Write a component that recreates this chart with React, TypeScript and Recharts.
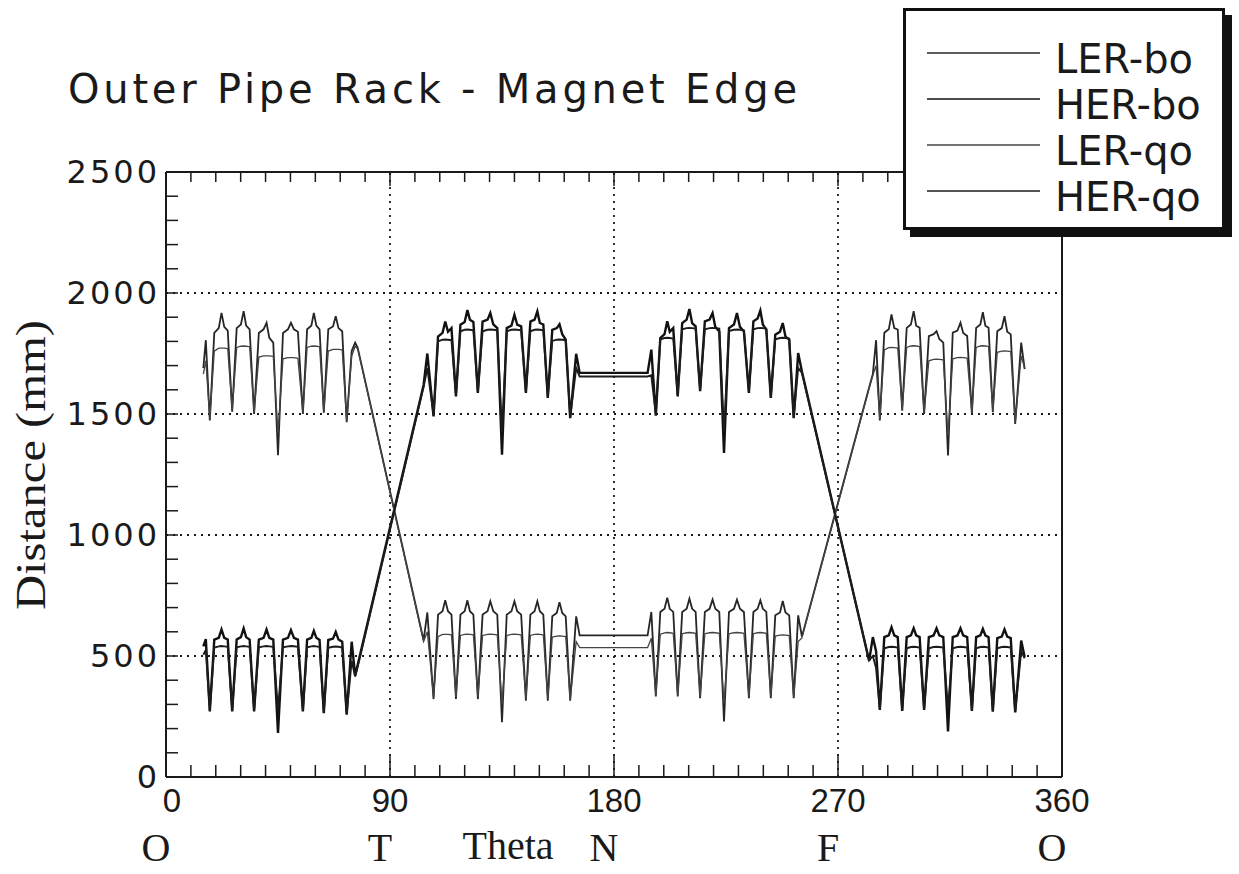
import React from 'react';
import { LineChart, Line, XAxis, YAxis, ReferenceLine, Legend, Label } from 'recharts';

// theta positions (deg): 4 arcs of 7 dips each, plus the crossings and the flat straight at N
const theta = [
  // O - T arc
  15, 16, 17.6, 19.4, 21.2, 22.3, 23.4, 24.8, 26.6, 28.4, 30.1, 31.2, 32.2, 33.6, 35.4, 37.3, 39.2, 40.4, 41.5, 43.1,
  45, 47, 49, 50.2, 51.4, 53, 55, 56.7, 58.4, 59.4, 60.4, 61.7, 63.4, 65.2, 67.1, 68.2, 69.3, 70.8, 72.6, 74.6, 76, 77,
  // crossing at T
  103.5, 105,
  // T - N arc
  107.5, 109.3, 111.1, 112.2, 113.3, 114.7, 116.5, 118.3, 120, 121.1, 122.1, 123.5, 125.3, 127.2, 129.2, 130.3, 131.5, 133.1,
  135, 136.9, 138.8, 140, 141.1, 142.7, 144.6, 146.4, 148.1, 149.2, 150.2, 151.6, 153.4, 155.2, 157, 158.1, 159.2, 160.6, 162.4, 164.8, 166.2,
  // straight at N
  193.5, 195,
  // N - F arc
  196.8, 198.6, 200.3, 201.4, 202.4, 203.8, 205.6, 207.4, 209.2, 210.3, 211.4, 212.8, 214.6, 216.5, 218.4, 219.6, 220.7, 222.3,
  224.2, 226.2, 228.2, 229.4, 230.6, 232.2, 234.2, 236, 237.7, 238.8, 239.8, 241.2, 243, 244.8, 246.7, 247.8, 248.9, 250.4, 252.2, 254, 255.5,
  // crossing at F
  282.5, 284, 285.3,
  // F - O arc
  286.8, 288.6, 290.4, 291.5, 292.6, 294, 295.8, 297.6, 299.3, 300.4, 301.4, 302.8, 304.6, 306.5, 308.4, 309.6, 310.7, 312.3,
  314.2, 316.1, 318, 319.2, 320.3, 321.9, 323.8, 325.5, 327.2, 328.2, 329.2, 330.5, 332.2, 334, 335.8, 336.9, 338, 339.4, 341.2, 343.6, 345,
];

const lerBo = [
  1690, 1805, 1473, 1835, 1855, 1918, 1860, 1845, 1510, 1855, 1870, 1925, 1865, 1850, 1500, 1835, 1850, 1877, 1815, 1795,
  1330, 1835, 1850, 1877, 1850, 1840, 1500, 1850, 1865, 1918, 1865, 1850, 1505, 1850, 1862, 1904, 1855, 1842, 1466, 1760, 1795, 1775,
  565, 680,
  322, 671, 685, 730, 685, 671, 322, 671, 685, 730, 685, 671, 322, 671, 685, 726, 685, 671,
  226, 671, 685, 726, 685, 671, 315, 671, 685, 726, 685, 671, 315, 664, 678, 722, 678, 664, 315, 664, 585,
  585, 682,
  333, 682, 695, 741, 695, 682, 333, 682, 695, 737, 695, 682, 326, 682, 695, 733, 695, 682,
  230, 682, 695, 733, 695, 682, 326, 682, 695, 730, 695, 682, 326, 668, 680, 727, 680, 668, 326, 668, 580,
  1610, 1665, 1805,
  1473, 1836, 1850, 1911, 1855, 1849, 1514, 1856, 1870, 1925, 1865, 1856, 1500, 1822, 1830, 1842, 1810, 1795,
  1329, 1836, 1845, 1877, 1835, 1822, 1500, 1856, 1870, 1921, 1865, 1856, 1507, 1842, 1855, 1904, 1840, 1829, 1459, 1795, 1685,
];

const herBo = [
  540, 570, 271, 568, 575, 610, 575, 568, 271, 568, 578, 614, 578, 568, 271, 568, 575, 610, 575, 568,
  182, 568, 575, 607, 575, 568, 271, 568, 575, 604, 575, 566, 264, 566, 572, 600, 568, 559, 258, 559, 420, 463,
  1620, 1750,
  1490, 1820, 1835, 1882, 1840, 1855, 1573, 1869, 1880, 1930, 1889, 1880, 1587, 1882, 1890, 1917, 1870, 1855,
  1332, 1855, 1865, 1910, 1869, 1862, 1587, 1882, 1890, 1924, 1876, 1870, 1566, 1848, 1855, 1871, 1830, 1807, 1483, 1749, 1670,
  1670, 1766,
  1493, 1814, 1830, 1883, 1840, 1855, 1573, 1876, 1890, 1934, 1875, 1862, 1594, 1883, 1890, 1917, 1860, 1841,
  1339, 1855, 1870, 1917, 1860, 1841, 1587, 1883, 1895, 1928, 1870, 1848, 1566, 1828, 1840, 1876, 1820, 1807, 1483, 1752, 1676,
  480, 578, 520,
  277, 578, 585, 619, 585, 578, 273, 578, 585, 615, 585, 578, 277, 578, 585, 615, 585, 578,
  188, 578, 585, 615, 585, 578, 273, 578, 585, 612, 585, 578, 270, 574, 580, 610, 580, 574, 267, 564, 496,
];

const lerQo = [
  1665, 1720, 1480, 1760, 1772, 1772, 1772, 1770, 1515, 1775, 1780, 1781, 1780, 1778, 1505, 1735, 1740, 1740, 1740, 1738,
  1420, 1728, 1733, 1733, 1733, 1730, 1505, 1775, 1780, 1781, 1780, 1778, 1510, 1760, 1767, 1767, 1767, 1765, 1470, 1740, 1780, 1770,
  560, 600,
  330, 580, 589, 589, 589, 587, 330, 585, 589, 590, 589, 587, 330, 585, 589, 590, 589, 587,
  301, 585, 589, 590, 589, 587, 322, 585, 589, 590, 589, 587, 322, 578, 582, 583, 582, 580, 320, 560, 535,
  535, 573,
  338, 590, 596, 597, 596, 594, 338, 592, 596, 597, 596, 594, 332, 592, 596, 597, 596, 594,
  305, 592, 596, 597, 596, 594, 332, 592, 596, 597, 596, 594, 332, 582, 586, 587, 586, 584, 330, 560, 575,
  1605, 1660, 1700,
  1480, 1765, 1774, 1775, 1774, 1772, 1518, 1775, 1781, 1782, 1781, 1779, 1505, 1720, 1726, 1727, 1726, 1724,
  1411, 1728, 1733, 1734, 1733, 1731, 1505, 1775, 1781, 1782, 1781, 1779, 1512, 1755, 1760, 1761, 1760, 1758, 1465, 1740, 1690,
];

const herQo = [
  505, 525, 275, 535, 540, 541, 540, 538, 275, 536, 540, 541, 540, 538, 275, 536, 540, 541, 540, 538,
  278, 536, 540, 541, 540, 538, 275, 536, 540, 541, 540, 537, 268, 534, 538, 539, 538, 535, 262, 480, 415, 455,
  1612, 1690,
  1495, 1800, 1807, 1808, 1807, 1805, 1578, 1842, 1848, 1849, 1848, 1846, 1590, 1842, 1848, 1849, 1848, 1846,
  1428, 1842, 1848, 1849, 1848, 1846, 1590, 1842, 1848, 1849, 1848, 1846, 1570, 1802, 1807, 1808, 1807, 1805, 1488, 1690, 1655,
  1655, 1660,
  1498, 1808, 1814, 1815, 1814, 1812, 1578, 1850, 1855, 1856, 1855, 1853, 1598, 1850, 1855, 1856, 1855, 1853,
  1428, 1843, 1848, 1849, 1848, 1846, 1592, 1850, 1855, 1856, 1855, 1853, 1570, 1809, 1814, 1815, 1814, 1812, 1488, 1690, 1670,
  482, 500, 450,
  280, 532, 537, 538, 537, 535, 276, 532, 537, 538, 537, 535, 280, 532, 537, 538, 537, 535,
  284, 532, 537, 538, 537, 535, 276, 532, 537, 538, 537, 535, 273, 532, 537, 538, 537, 535, 270, 520, 490,
];

const seriesNames = ['LER-bo', 'HER-bo', 'LER-qo', 'HER-qo'];
const xTicks = [0, 10, 20, 30, 40, 50, 60, 70, 80, 90, 100, 110, 120, 130, 140, 150, 160, 170, 180,
  190, 200, 210, 220, 230, 240, 250, 260, 270, 280, 290, 300, 310, 320, 330, 340, 350, 360];
const xTickLabels = [0, 90, 180, 270, 360];
const xSiteLabels = ['O', 'T', 'N', 'F', 'O'];
const yTicks = [0, 100, 200, 300, 400, 500, 600, 700, 800, 900, 1000, 1100, 1200, 1300, 1400, 1500,
  1600, 1700, 1800, 1900, 2000, 2100, 2200, 2300, 2400, 2500];
const yTickLabels = [0, 500, 1000, 1500, 2000, 2500];
const gridX = [90, 180, 270];
const gridY = [500, 1000, 1500, 2000];

const data = theta.map((t, i) => ({
  theta: t,
  lerBo: lerBo[i],
  herBo: herBo[i],
  lerQo: lerQo[i],
  herQo: herQo[i],
}));

const INK = '#1a1a1a';
const SANS = "'DejaVu Sans', 'Open Sans', sans-serif";
const NARROW = "'Liberation Sans Narrow', 'Liberation Sans', sans-serif";
const SERIF = "'Liberation Serif', 'DejaVu Serif', serif";

// ticks point into the plot, like the original frame
const BottomTick = ({ x, y, payload }: any) => {
  const v = payload.value;
  const idx = xTickLabels.indexOf(v);
  const len = v % 90 === 0 && v !== 0 && v !== 360 ? 22 : 12;
  return (
    <g>
      <line x1={x} y1={y} x2={x} y2={y - len} stroke={INK} strokeWidth={1.5} />
      {idx >= 0 && (
        <>
          <text x={x + (v === 0 ? 6 : 0)} y={y + 35} textAnchor="middle" fontFamily={NARROW} fontSize={33} fill={INK}>
            {v}
          </text>
          <text x={x - 10} y={y + 84} textAnchor="middle" fontFamily={SERIF} fontSize={40} fill={INK}>
            {xSiteLabels[idx]}
          </text>
        </>
      )}
    </g>
  );
};

const TopTick = ({ x, y, payload }: any) => {
  const v = payload.value;
  const len = v % 90 === 0 ? 14 : 10;
  return <line x1={x} y1={y} x2={x} y2={y + len} stroke={INK} strokeWidth={1.5} />;
};

const LeftTick = ({ x, y, payload }: any) => {
  const v = payload.value;
  return (
    <g>
      <line x1={x} y1={y} x2={x + 12} y2={y} stroke={INK} strokeWidth={1.5} />
      {yTickLabels.includes(v) && (
        <text x={x - 6} y={y} textAnchor="end" dominantBaseline="central" fontFamily={SANS} fontSize={32}
          letterSpacing={3} fill={INK}>
          {v}
        </text>
      )}
    </g>
  );
};

const RightTick = ({ x, y }: any) => (
  <line x1={x} y1={y} x2={x - 12} y2={y} stroke={INK} strokeWidth={1.5} />
);

const LegendBox = ({ payload }: any) => {
  const items = seriesNames.map((name) => (payload || []).find((e: any) => e.value === name)).filter(Boolean);
  return (
    <div style={{ position: 'relative', width: 322, height: 222, background: '#fff', boxShadow: '7px 7px 0 #111' }}>
      <svg width={322} height={222} style={{ position: 'absolute', left: 0, top: 0 }}>
        <rect x={1.5} y={1.5} width={319} height={219} fill="#fff" stroke="#111" strokeWidth={3} />
        {items.map((entry: any, i: number) => (
          <g key={entry.value}>
            <line x1={24} x2={137} y1={45 + i * 46} y2={45 + i * 46} stroke={entry.color} strokeWidth={1.6} />
            <text x={152} y={65 + i * 46} fontFamily={SANS} fontSize={40} fill={INK}>
              {entry.value}
            </text>
          </g>
        ))}
      </svg>
    </div>
  );
};

export default function App() {
  return (
    <div style={{ position: 'relative', width: 1239, height: 874, background: '#fff', overflow: 'hidden' }}>
      <style>{'body{margin:0;overflow:hidden;}'}</style>
      <LineChart width={1239} height={874} data={data} margin={{ top: 171, right: 176, bottom: 96, left: 165 }}>
        <XAxis
          dataKey="theta"
          type="number"
          domain={[0, 360]}
          ticks={xTicks}
          interval={0}
          height={1}
          tickSize={0}
          tickMargin={0}
          tickLine={false}
          tick={(p: any) => <BottomTick {...p} />}
          axisLine={{ stroke: INK, strokeWidth: 2 }}
          allowDataOverflow
        >
          <Label
            content={(p: any) => (
              <text x={p.viewBox.x + 342} y={p.viewBox.y + 82} textAnchor="middle" fontFamily={SERIF} fontSize={40} fill={INK}>
                Theta
              </text>
            )}
          />
        </XAxis>
        <XAxis
          xAxisId="top"
          orientation="top"
          dataKey="theta"
          type="number"
          domain={[0, 360]}
          ticks={xTicks}
          interval={0}
          height={1}
          tickSize={0}
          tickMargin={0}
          tickLine={false}
          tick={(p: any) => <TopTick {...p} />}
          axisLine={{ stroke: INK, strokeWidth: 2 }}
        />
        <YAxis
          type="number"
          domain={[0, 2500]}
          ticks={yTicks}
          interval={0}
          width={1}
          tickSize={0}
          tickMargin={0}
          tickLine={false}
          tick={(p: any) => <LeftTick {...p} />}
          axisLine={{ stroke: INK, strokeWidth: 2 }}
          allowDataOverflow
        >
          <Label
            content={(p: any) => {
              const cx = p.viewBox.x - 120;
              const cy = p.viewBox.y + 293;
              return (
                <text x={cx} y={cy} transform={`rotate(-90 ${cx} ${cy})`} textAnchor="middle" fontFamily={SERIF}
                  fontSize={42} textLength={290} lengthAdjust="spacingAndGlyphs" fill={INK}>
                  Distance (mm)
                </text>
              );
            }}
          />
        </YAxis>
        <YAxis
          yAxisId="right"
          orientation="right"
          type="number"
          domain={[0, 2500]}
          ticks={yTicks}
          interval={0}
          width={1}
          tickSize={0}
          tickMargin={0}
          tickLine={false}
          tick={(p: any) => <RightTick {...p} />}
          axisLine={{ stroke: INK, strokeWidth: 2 }}
        />
        {gridX.map((v) => (
          <ReferenceLine key={`gx${v}`} x={v} stroke={INK} strokeWidth={1.8} strokeDasharray="2 5" />
        ))}
        {gridY.map((v) => (
          <ReferenceLine key={`gy${v}`} y={v} stroke={INK} strokeWidth={1.8} strokeDasharray="2 5" />
        ))}
        <Line type="linear" dataKey="lerBo" name="LER-bo" stroke="#262626" strokeWidth={1.8} dot={false} activeDot={false} isAnimationActive={false} />
        <Line type="linear" dataKey="herBo" name="HER-bo" stroke="#111" strokeWidth={2.4} dot={false} activeDot={false} isAnimationActive={false} />
        <Line type="linear" dataKey="lerQo" name="LER-qo" stroke="#444" strokeWidth={1.3} dot={false} activeDot={false} isAnimationActive={false} />
        <Line type="linear" dataKey="herQo" name="HER-qo" stroke="#1c1c1c" strokeWidth={1.9} dot={false} activeDot={false} isAnimationActive={false} />
        <Legend
          layout="vertical"
          verticalAlign="middle"
          align="center"
          content={(p: any) => <LegendBox payload={p.payload} />}
          wrapperStyle={{ left: 903, top: 8, width: 330, height: 232 }}
        />
      </LineChart>
      <svg width={900} height={130} style={{ position: 'absolute', left: 0, top: 0, pointerEvents: 'none' }}>
        <text x={68} y={103} textLength={729} lengthAdjust="spacing" fontFamily={SANS} fontSize={40} fill={INK}>
          Outer Pipe Rack - Magnet Edge
        </text>
      </svg>
    </div>
  );
}
